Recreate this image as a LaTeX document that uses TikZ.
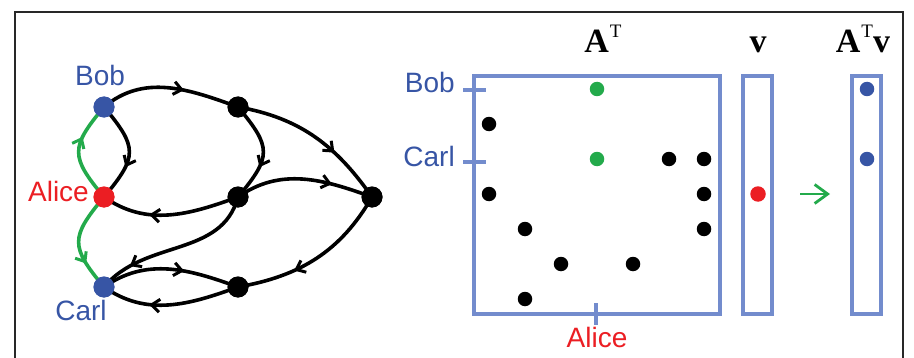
\documentclass[tikz,border=0pt]{standalone}
\usepackage{fontspec}
\newfontfamily\namefont{Liberation Sans}
\newfontfamily\headfont{Liberation Serif}
\usetikzlibrary{arrows.meta,decorations.markings}

\definecolor{bobblue}{RGB}{55,85,165}
\definecolor{alicered}{RGB}{235,30,35}
\definecolor{walkgreen}{RGB}{35,170,75}
\definecolor{boxblue}{RGB}{115,140,205}
\definecolor{framegray}{RGB}{40,40,40}

\tikzset{
  vertex/.style={circle,fill=black,inner sep=0pt,minimum size=21pt},
  entry/.style={circle,fill=black,inner sep=0pt,minimum size=14.5pt},
  edge/.style={line width=3.6pt,draw=black,postaction={decorate},
    decoration={markings,mark=at position #1 with
      {\arrow{Straight Barb[length=8pt,width=13pt,line width=3pt]}}}},
  edge/.default=0.65,
  namelabel/.style={font=\namefont\fontsize{28}{30}\selectfont,inner sep=0pt},
  matbox/.style={draw=boxblue,line width=3.2pt},
  mathlabel/.style={font=\headfont\bfseries\fontsize{34}{36}\selectfont,inner sep=0pt,anchor=base},
}
% transpose mark set as a small raised upright T
\newcommand{\trmark}{\kern1pt\raisebox{15pt}{\mdseries\fontsize{19}{19}\selectfont T}}

\begin{document}
\begin{tikzpicture}[x=1pt,y=1pt]
\useasboundingbox (0,0) rectangle (914,357);

% open frame
\draw[framegray,line width=2.2pt] (15,-5) -- (15,345) -- (903,345) -- (903,-5);

% ---------- graph ----------
\node[vertex,fill=bobblue]   (bob)   at (104,250) {};
\node[vertex,fill=alicered]  (alice) at (104,160) {};
\node[vertex,fill=bobblue]   (carl)  at (104,70)  {};
\node[vertex] (n1) at (238,250) {};
\node[vertex] (n2) at (238,160) {};
\node[vertex] (n3) at (372,160) {};
\node[vertex] (n4) at (238,70)  {};

\node[namelabel,text=bobblue,anchor=base]        (lbob)   at (100,272) {Bob};
\node[namelabel,text=alicered,anchor=base east]  (lalice) at (89,156)  {Alice};
\node[namelabel,text=bobblue,anchor=base]        (lcarl)  at (81,37)   {Carl};

\draw[edge=0.6] (bob.center) to[out=40,in=160] (n1.center);
\draw[edge] (bob.center) to[out=-50,in=50,looseness=1.5] (alice.center);
\draw[edge] (n1.center) to[out=-50,in=50,looseness=1.5] (n2.center);
\draw[edge] (n1.center) to[out=-10,in=125] (n3.center);
\draw[edge=0.7] (n2.center) to[out=35,in=160] (n3.center);
\draw[edge] (n2.center) to[out=200,in=-35] (alice.center);
\draw[edge=0.8] (n2.center) to[out=255,in=50] (carl.center);
\draw[edge=0.6] (carl.center) to[out=35,in=160] (n4.center);
\draw[edge] (n4.center) to[out=200,in=-35] (carl.center);
\draw[edge] (n3.center) to[out=240,in=10] (n4.center);
\draw[edge,draw=walkgreen] (alice.center) to[out=130,in=230,looseness=1.5] (bob.center);
\draw[edge=0.72,draw=walkgreen] (alice.center) to[out=230,in=130,looseness=1.5] (carl.center);

% redraw the vertices on top of the edges
\foreach \v/\c in {bob/bobblue,alice/alicered,carl/bobblue,n1/black,n2/black,n3/black,n4/black}
  \fill[\c] (\v) circle (10.5pt);

% ---------- matrix A^T ----------
\node[matbox,minimum width=246pt,minimum height=238pt,inner sep=0pt] (mat) at (597,162) {};
\coordinate (tbobL) at (463,267);  \coordinate (tbobR) at (486,267);
\coordinate (tcarlL) at (463,195); \coordinate (tcarlR) at (486,195);
\coordinate (taliT) at (596,54);   \coordinate (taliB) at (596,32);
\draw[boxblue,line width=3.2pt] (tbobL) -- (tbobR);
\draw[boxblue,line width=3.2pt] (tcarlL) -- (tcarlR);
\draw[boxblue,line width=3.2pt] (taliT) -- (taliB);

\node[namelabel,text=bobblue,anchor=base east]  (mbob)   at (455,264) {Bob};
\node[namelabel,text=bobblue,anchor=base east]  (mcarl)  at (455,191) {Carl};
\node[namelabel,text=alicered,anchor=base]      (malice) at (597,10)  {Alice};

% nonzero entries: (column x, row y)
\foreach \x/\y in {489/233, 669/198, 704/198, 489/163, 704/163, 525/128, 704/128,
                   561/93, 633/93, 525/58}
  \node[entry] at (\x,\y) {};
\node[entry,fill=walkgreen] (g1) at (597,268) {};
\node[entry,fill=walkgreen] (g2) at (597,198) {};

% ---------- vector v ----------
\node[matbox,minimum width=29pt,minimum height=238pt,inner sep=0pt] (vec) at (757.5,162) {};
\node[entry,minimum size=15.5pt,fill=alicered] (vdot) at (758,163) {};

\coordinate (arrS) at (800,163);
\coordinate (arrE) at (830,163);
\draw[walkgreen,line width=2.8pt,-{Straight Barb[length=13pt,width=19pt,line width=2.8pt]}] (arrS) -- (arrE);

% ---------- product A^T v ----------
\node[matbox,minimum width=29pt,minimum height=238pt,inner sep=0pt] (res) at (866.5,162) {};
\node[entry,fill=bobblue] (r1) at (867,268) {};
\node[entry,fill=bobblue] (r2) at (867,198) {};

% headings
\node[mathlabel] (hA) at (603,304) {A\trmark};
\node[mathlabel] (hv) at (758,304) {v};
\node[mathlabel] (hAv) at (863,304) {A\trmark v};
\end{tikzpicture}
\end{document}
